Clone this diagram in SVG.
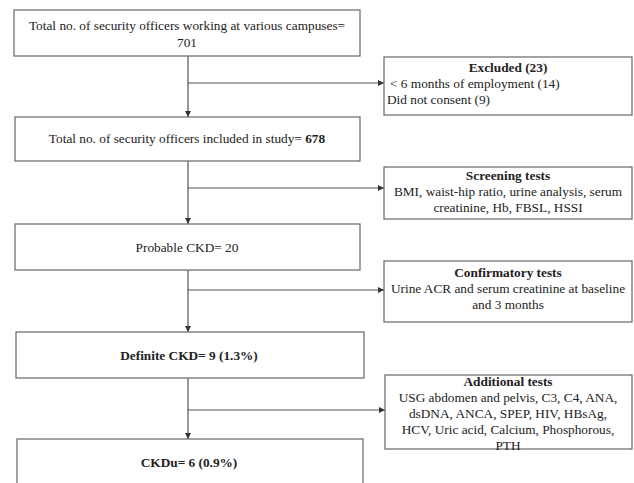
<svg xmlns="http://www.w3.org/2000/svg" width="634" height="483" viewBox="0 0 634 483">
<style>
.box{fill:#fff;stroke:#666;stroke-width:1.2}
.t{font-family:"Liberation Serif","Times New Roman",serif;font-size:13.3px;fill:#222}
.c{text-anchor:middle}
.b{font-weight:bold}
.ln{stroke:#555;stroke-width:1.2;fill:none}
</style>
<defs>
<marker id="ah" viewBox="0 0 10 10" refX="10" refY="5" markerWidth="6" markerHeight="6" markerUnits="userSpaceOnUse" orient="auto">
<path d="M0,0L10,5L0,10z" fill="#333"/>
</marker>
</defs>
<rect width="634" height="483" fill="#fff"/>
<g id="connectors">
<path class="ln" d="M188,56V117" marker-end="url(#ah)"/>
<path class="ln" d="M188,83H384" marker-end="url(#ah)"/>
<path class="ln" d="M188,161V224" marker-end="url(#ah)"/>
<path class="ln" d="M188,188H384" marker-end="url(#ah)"/>
<path class="ln" d="M188,270V332" marker-end="url(#ah)"/>
<path class="ln" d="M188,290H384" marker-end="url(#ah)"/>
<path class="ln" d="M188,378V439" marker-end="url(#ah)"/>
<path class="ln" d="M188,410H385" marker-end="url(#ah)"/>
</g>
<g id="n1">
<rect class="box" x="14" y="10" width="346" height="46"/>
<text class="t c" x="187" y="30">Total no. of security officers working at various campuses=</text>
<text class="t c" x="187" y="47">701</text>
</g>
<g id="excluded">
<rect class="box" x="384" y="57" width="248" height="58"/>
<text class="t c b" x="508" y="72">Excluded (23)</text>
<text class="t" x="390" y="88">&lt; 6 months of employment  (14)</text>
<text class="t" x="387" y="104">Did not consent (9)</text>
</g>
<g id="n2">
<rect class="box" x="15" y="117" width="345" height="44"/>
<text class="t c" x="187" y="143">Total no. of security officers included in study= <tspan class="b">678</tspan></text>
</g>
<g id="screening">
<rect class="box" x="384" y="167" width="248" height="52"/>
<text class="t c b" x="508" y="180">Screening tests</text>
<text class="t c" x="508" y="196">BMI, waist-hip ratio, urine analysis,  serum</text>
<text class="t c" x="508" y="212">creatinine,  Hb, FBSL, HSSI</text>
</g>
<g id="n3">
<rect class="box" x="15" y="224" width="345" height="46"/>
<text class="t c" x="187" y="252">Probable CKD= 20</text>
</g>
<g id="confirmatory">
<rect class="box" x="384" y="261" width="248" height="61"/>
<text class="t c b" x="508" y="277">Confirmatory tests</text>
<text class="t c" x="508" y="293">Urine ACR and serum creatinine  at baseline</text>
<text class="t c" x="508" y="309">and 3 months</text>
</g>
<g id="n4">
<rect class="box" x="16" y="332" width="348" height="46"/>
<text class="t c b" x="189" y="360">Definite CKD= 9 (1.3%)</text>
</g>
<g id="additional">
<rect class="box" x="385" y="375" width="247" height="74"/>
<text class="t c b" x="508" y="386">Additional tests</text>
<text class="t c" x="508" y="402">USG abdomen and pelvis, C3, C4, ANA,</text>
<text class="t c" x="508" y="418">dsDNA, ANCA,  SPEP, HIV, HBsAg,</text>
<text class="t c" x="508" y="434">HCV, Uric acid, Calcium, Phosphorous,</text>
<text class="t c" x="508" y="450">PTH</text>
</g>
<g id="n5">
<rect class="box" x="17" y="439" width="346" height="60"/>
<text class="t c b" x="189" y="467">CKDu= 6 (0.9%)</text>
</g>
</svg>
